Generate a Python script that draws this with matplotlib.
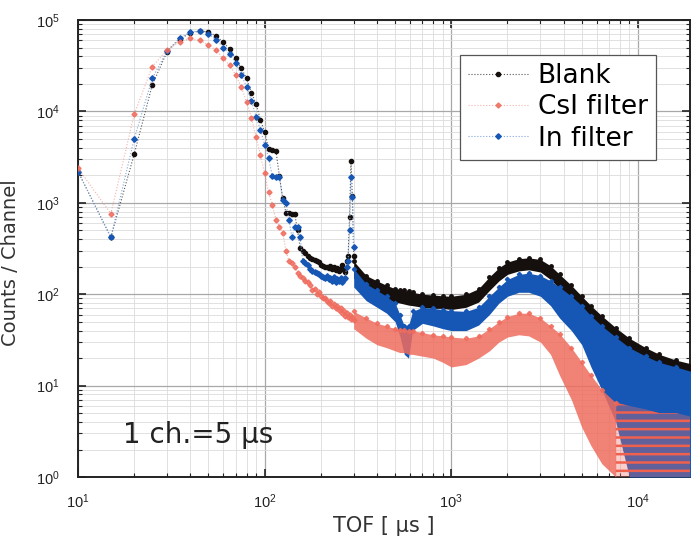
import matplotlib
matplotlib.use("Agg")
import matplotlib.pyplot as plt
from matplotlib.ticker import LogLocator, NullFormatter

plt.rcParams['font.family'] = ['Liberation Sans', 'DejaVu Sans']
plt.rcParams['hatch.linewidth'] = 1.8

# early channels (1 ch. = 5 us), read point by point
t = [10, 15, 20, 25, 30, 35, 40, 45, 50, 55, 60, 65, 70, 75, 80, 85, 90, 95,
     100, 105, 110, 115, 120, 125, 130, 135, 140, 145, 150, 155, 160, 165,
     170, 175, 180, 185, 190, 195, 200, 205, 210, 215, 220, 225, 230, 235,
     240, 245, 250, 255, 260, 265, 270, 275, 280, 285, 290, 295, 300]

blank = [2200, 420, 3400, 19500, 45000, 62000, 72000, 76000, 74000, 67000,
         57000, 48000, 38000, 29500, 23000, 16000, 12000, 8100, 5900, 3900,
         3800, 3700, 1950, 1130, 780, 770, 760, 750, 500, 320, 300, 280,
         260, 250, 240, 235, 230, 225, 210, 205, 200, 200, 195, 205, 190,
         200, 185, 195, 180, 190, 210, 185, 175, 230, 260, 700, 2900, 1200, 260]

csi = [2400, 760, 9300, 31000, 47000, 58000, 63000, 60000, 53000, 47000,
       38000, 32000, 25000, 18600, 12600, 8500, 5200, 3300, 2100, 1300,
       950, 650, 550, 470, 300, 230, 220, 200, 170, 160, 150, 140,
       135, 125, 110, 115, 100, 105, 95, 90, 92, 85, 80, 84, 75,
       78, 70, 74, 67, 70, 62, 66, 58, 63, 56, 60, 54, 57, 52]

indium = [2200, 420, 5000, 23000, 46000, 63000, 74000, 76000, 70000, 61000,
          50000, 42000, 34000, 25000, 18600, 13000, 8700, 6300, 4300, 3100,
          1950, 1900, 1900, 1070, 1000, 650, 420, 550, 540, 420, 230, 220,
          210, 190, 180, 175, 170, 165, 160, 155, 150, 160, 145, 150, 140,
          155, 135, 145, 140, 150, 135, 145, 150, 200, 230, 500, 1900, 1150, 330]

# dense region: upper / lower edge of each point cloud
band_t = [300, 350, 400, 450, 500, 530, 560, 590, 620, 700, 800, 900, 1000,
          1200, 1400, 1600, 1800, 2000, 2300, 2600, 3000, 3400, 3800, 4400,
          5000, 5600, 6400, 7600, 9000, 11000, 13000, 16000, 20000]

blank_hi = [230, 160, 140, 125, 115, 112, 110, 108, 105, 100, 98, 96, 95,
            100, 115, 155, 195, 225, 245, 250, 240, 205, 165, 125,
            95, 75, 58, 43, 33, 26, 22, 19, 17]
blank_lo = [150, 110, 95, 88, 82, 80, 78, 76, 75, 72, 70, 70, 68,
            72, 82, 110, 140, 165, 180, 185, 175, 145, 115, 85,
            62, 48, 38, 28, 21, 16, 13, 11, 10]

in_hi = [190, 130, 110, 95, 80, 60, 45, 45, 65, 72, 70, 68, 66,
         65, 72, 95, 120, 145, 165, 170, 160, 140, 120, 95,
         75, 58, 45, 34, 26, 21, 18, 16, 14]
in_lo = [120, 85, 72, 62, 50, 35, 22, 20, 40, 48, 45, 42, 40,
         40, 46, 60, 80, 95, 105, 105, 95, 75, 55, 40,
         28, 16, 9, 4, 1, 1, 1, 1, 1]

# CsI cloud until it runs into the single-count floor
csi_t = [300, 350, 400, 450, 500, 530, 560, 590, 620, 700, 800, 900, 1000,
         1200, 1400, 1600, 1800, 2000, 2300, 2600, 3000, 3400, 3800, 4400,
         5000, 5600, 6400, 7600]
csi_hi = [65, 55, 48, 45, 42, 41, 41, 40, 40, 38, 36, 35, 34,
          33, 35, 42, 50, 57, 62, 62, 55, 45, 37, 26,
          18, 13, 9, 6.5]
csi_lo = [42, 33, 28, 26, 24, 23, 23, 22, 22, 21, 20, 18, 16,
          17, 20, 24, 30, 34, 36, 35, 30, 22, 13, 7,
          3.5, 2.2, 1.4, 1]

# sparse CsI tail (a few counts per channel)
tail_t = [7600, 9000, 11000, 13000, 16000, 20000]
tail_hi = [6.5, 6, 5.5, 5, 5, 4.5]
tail_lo = [1, 1, 1, 1, 1, 1]

labels = ["Blank", "CsI filter", "In filter"]
c_blank = "#15100e"
c_csi = "#ef6c5e"
c_in = "#1656b4"

fig = plt.figure(figsize=(6.92, 5.43), dpi=100)
ax = fig.add_axes([0.1127, 0.1215, 0.8844, 0.8416])

ax.plot(t, blank, ':', color="#555555", lw=0.8, marker='o', ms=3,
        mfc=c_blank, mec=c_blank, label=labels[0], zorder=3)
ax.plot(t, csi, ':', color="#f2a39a", lw=0.8, marker='D', ms=2.6,
        mfc=c_csi, mec=c_csi, alpha=0.85, label=labels[1], zorder=5)
ax.plot(t, indium, ':', color="#7fa6dc", lw=0.8, marker='D', ms=2.8,
        mfc=c_in, mec=c_in, label=labels[2], zorder=4)

ax.fill_between(band_t, blank_lo, blank_hi, color=c_blank, lw=0, zorder=3)
ax.plot(band_t, blank_hi, 'o', ms=2.5, color=c_blank, zorder=3)
ax.fill_between(band_t, in_lo, in_hi, color=c_in, lw=0, zorder=4)
ax.plot(band_t, in_hi, 'D', ms=2.2, color=c_in, zorder=4)
ax.fill_between(csi_t, csi_lo, csi_hi, color=c_csi, lw=0, alpha=0.85, zorder=5)
ax.plot(csi_t, csi_hi, 'D', ms=2.2, color=c_csi, alpha=0.85, zorder=5)
ax.fill_between(tail_t, tail_lo, tail_hi, facecolor=(0.95, 0.45, 0.42, 0.35),
                edgecolor="#f0604e", hatch='--', lw=0, zorder=5)

ax.set_xscale('log')
ax.set_yscale('log')
ax.set_xlim(10, 1.9e4)
ax.set_ylim(1, 1e5)

ax.xaxis.set_minor_locator(LogLocator(base=10, subs=range(2, 10), numticks=20))
ax.yaxis.set_minor_locator(LogLocator(base=10, subs=range(2, 10), numticks=20))
ax.xaxis.set_minor_formatter(NullFormatter())
ax.yaxis.set_minor_formatter(NullFormatter())
ax.tick_params(which='both', direction='in', top=True, right=True,
               labelsize=10.5, colors='#222222')
ax.tick_params(which='major', length=6, width=1.2)
ax.tick_params(which='minor', length=3, width=0.8)
ax.tick_params(axis='x', which='major', pad=11)
ax.tick_params(axis='y', which='major', pad=13)

ax.grid(which='major', color='#a8a8a8', lw=0.9)
ax.grid(which='minor', color='#dcdcdc', lw=0.6)
ax.set_axisbelow(True)
for s in ax.spines.values():
    s.set_linewidth(1.4)
    s.set_color('#222222')

ax.set_xlabel("TOF [ μs ]", fontsize=15, family='DejaVu Sans', color='#333333',
              labelpad=4)
ax.set_ylabel("Counts / Channel", fontsize=14, family='DejaVu Sans',
              color='#333333', labelpad=4)
ax.yaxis.set_label_coords(-0.095, 0.47)

ax.text(0.0735, 0.074, "1 ch.=5 μs", transform=ax.transAxes, fontsize=20,
        family='DejaVu Sans', color='#222222', zorder=6)

leg = ax.legend(loc='upper right', bbox_to_anchor=(0.944, 0.923),
                prop={'family': 'DejaVu Sans', 'size': 19},
                fancybox=False, framealpha=1, edgecolor='#555555',
                handlelength=2.3, labelspacing=0.2, borderpad=0.3,
                handletextpad=0.35, borderaxespad=0)
leg.get_frame().set_linewidth(0.9)
leg.set_zorder(10)

fig.savefig("out.png", dpi=100)
